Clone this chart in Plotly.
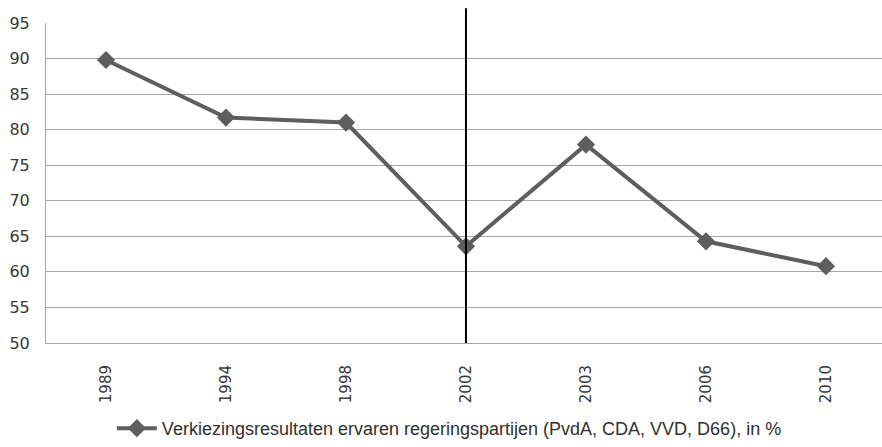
import plotly.graph_objects as go

years = ["1989", "1994", "1998", "2002", "2003", "2006", "2010"]
values = [89.8, 81.7, 81.0, 63.6, 77.9, 64.3, 60.8]
series_name = "Verkiezingsresultaten ervaren regeringspartijen (PvdA, CDA, VVD, D66), in %"
marker_year = "2002"

fig = go.Figure()
fig.add_trace(go.Scatter(
    x=years, y=values, mode="lines+markers", name=series_name,
    line=dict(color="#5e5e5e", width=4),
    marker=dict(symbol="diamond", size=14, color="#5e5e5e"),
))

fig.add_shape(type="line", xref="x", yref="paper",
              x0=years.index(marker_year), x1=years.index(marker_year),
              y0=0, y1=1.046, line=dict(color="#000000", width=2))

fig.update_layout(
    width=882, height=447,
    margin=dict(l=46, r=0, t=23, b=98),
    paper_bgcolor="white", plot_bgcolor="white",
    showlegend=True,
    legend=dict(orientation="h", x=0.4825, xanchor="center", y=-0.267, yanchor="middle",
                itemwidth=40,
                font=dict(family="Liberation Sans", size=18, color="#303030")),
    xaxis=dict(type="category", range=[-0.5, 6.467], tickangle=-90, automargin=False,
               showgrid=False, showline=True, linecolor="#a6a6a6", linewidth=1,
               ticks="", ticklabelstandoff=15,
               tickfont=dict(family="DejaVu Sans", size=15, color="#383838")),
    yaxis=dict(range=[50, 95], dtick=5, showgrid=True, gridcolor="#a6a6a6", gridwidth=1,
               showline=True, linecolor="#a6a6a6", linewidth=1, zeroline=False,
               ticks="", ticklabelstandoff=12, automargin=False,
               tickfont=dict(family="DejaVu Sans", size=16, color="#383838")),
)

fig.write_html("out.html", config={"displayModeBar": False},
               post_script="document.body.style.margin='0';document.body.style.overflow='hidden';")
